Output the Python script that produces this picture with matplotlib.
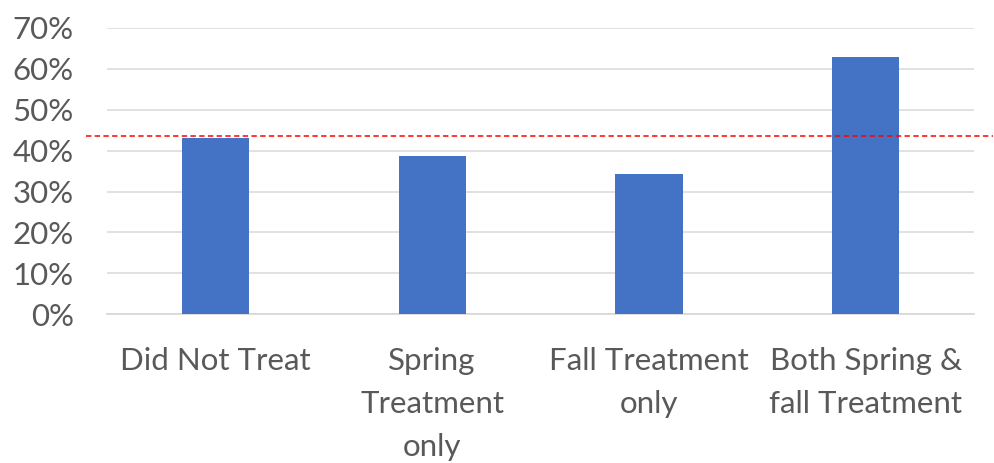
import matplotlib
matplotlib.use("Agg")
import matplotlib.pyplot as plt
from matplotlib.ticker import FuncFormatter, MultipleLocator

categories = ["Did Not Treat", "Spring\nTreatment\nonly", "Fall Treatment\nonly",
              "Both Spring &\nfall Treatment"]
shares = [0.430, 0.387, 0.342, 0.628]
reference_level = 0.435

plt.rcParams["font.family"] = ["Lato", "DejaVu Sans"]
text_color = "#595959"
grid_color = "#d9d9d9"

fig = plt.figure(figsize=(9.95, 4.63), dpi=100)
ax = fig.add_axes([0.1075, 0.321, 0.8715, 0.619])

x = range(len(categories))
ax.bar(x, shares, width=0.31, color="#4472C4", zorder=3)

ax.set_xlim(-0.5, len(categories) - 0.5)
ax.set_ylim(0, 0.70)
ax.yaxis.set_major_locator(MultipleLocator(0.10))
ax.yaxis.set_major_formatter(FuncFormatter(lambda v, _: f"{v * 100:.0f}%"))
ax.grid(axis="y", color=grid_color, linewidth=1.1, zorder=0)

for side in ("top", "right", "left"):
    ax.spines[side].set_visible(False)
ax.spines["bottom"].set_color(grid_color)
ax.spines["bottom"].set_linewidth(1.3)

ax.set_xticks(list(x))
ax.set_xticklabels(categories, linespacing=1.66)
ax.tick_params(axis="both", length=0, labelsize=22.5, colors=text_color)
ax.tick_params(axis="y", pad=24)
ax.tick_params(axis="x", pad=23.5)

# dashed reference level spanning slightly past the plot area
ax.plot([-0.024, 1.022], [reference_level, reference_level],
        transform=ax.get_yaxis_transform(), color="#ff0000", linewidth=1.1,
        dashes=(3.5, 2.2), clip_on=False, zorder=4)

fig.savefig("out.png", dpi=100)
